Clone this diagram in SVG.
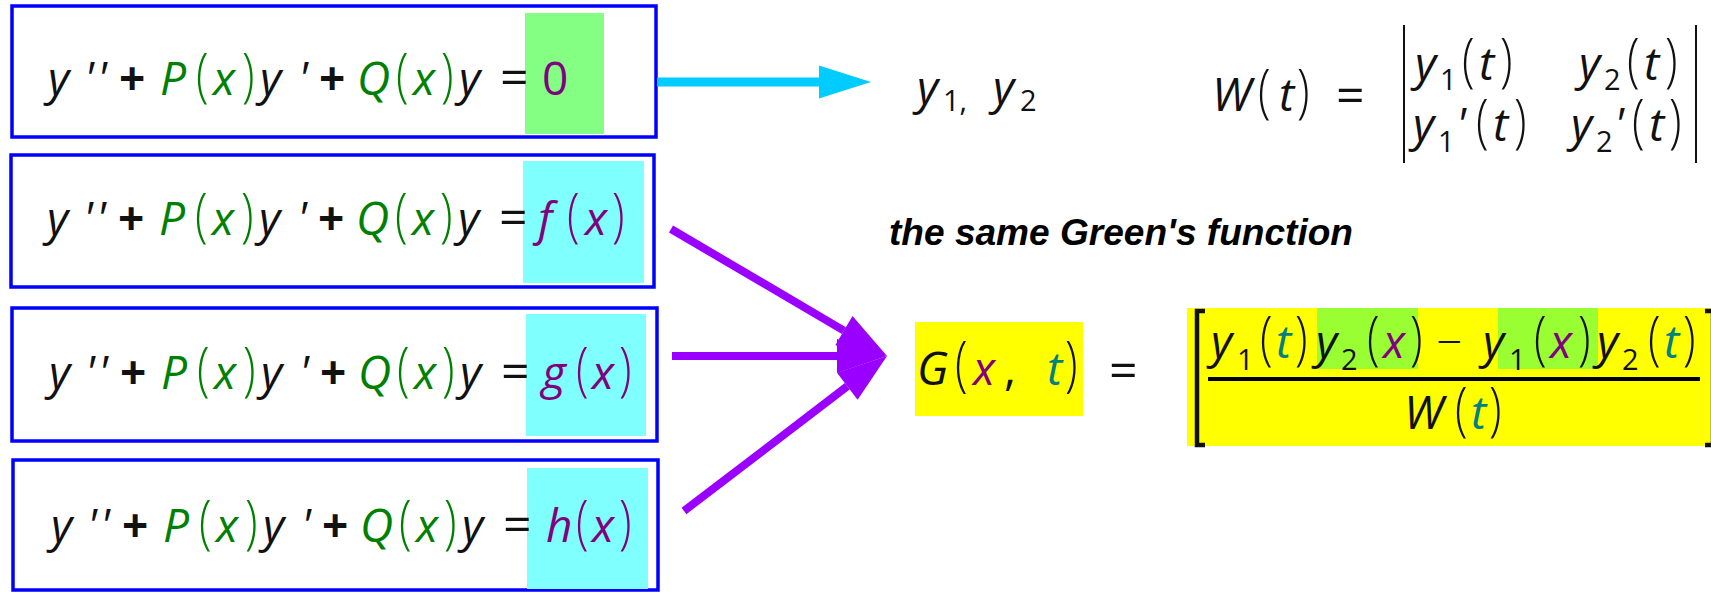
<svg xmlns="http://www.w3.org/2000/svg" width="1711" height="593" viewBox="0 0 1711 593">
<style>
.m{font-family:"Open Sans","Noto Sans",sans-serif;font-size:46px;font-style:italic;fill:#111}
.u{font-style:normal}
.b{font-weight:700}
.p{font-style:normal;font-weight:300}
.gr{fill:#008000}.pu{fill:#800080}.te{fill:#008080}
.s{font-size:29px;font-style:normal}
.eqs{font-size:50px}
.box{fill:#fff;stroke:#0000ff;stroke-width:3.5}
.lbl{font-family:"Liberation Sans",Arial,sans-serif;font-size:36px;font-weight:700;font-style:italic;fill:#000}
.pl{stroke:#9900ff;stroke-width:8;fill:none}
.cl{stroke:#00ccff;stroke-width:9;fill:none}
.bar{stroke:#111;stroke-width:2;fill:none}
</style>
<defs>
<marker id="hp" markerUnits="userSpaceOnUse" markerWidth="50" markerHeight="34" refX="0" refY="17" orient="auto" overflow="visible"><path d="M0,0 L50,17 L0,34 z" fill="#9900ff"/></marker>
<marker id="hc" markerUnits="userSpaceOnUse" markerWidth="52" markerHeight="33" refX="0" refY="16.5" orient="auto" overflow="visible"><path d="M0,0 L52,16.5 L0,33 z" fill="#00ccff"/></marker>
</defs>

<g id="eq1">
<rect class="box" x="12" y="6" width="644" height="131"/>
<rect x="525" y="13" width="79" height="121" fill="#84ff84"/>
<g transform="translate(0,95)">
<text class="m" x="48">y</text><text class="m" x="84">'</text><text class="m" x="97">'</text>
<text class="m u b" x="119">+</text>
<text class="m gr" x="160">P</text>
<text class="m p gr" transform="translate(196,0) scale(1,1.28)">(</text>
<text class="m gr" x="213">x</text>
<text class="m p gr" transform="translate(242,0) scale(1,1.28)">)</text>
<text class="m" x="260">y</text><text class="m" x="298">'</text>
<text class="m u b" x="319">+</text>
<text class="m gr" x="357">Q</text>
<text class="m p gr" transform="translate(396,0) scale(1,1.28)">(</text>
<text class="m gr" x="413">x</text>
<text class="m p gr" transform="translate(441,0) scale(1,1.28)">)</text>
<text class="m" x="459">y</text>
<text class="m u eqs" x="500">=</text>
<text class="m u pu" x="542">0</text>
</g>
</g>

<g id="eq2">
<rect class="box" x="11" y="155" width="643" height="132"/>
<rect x="523" y="161" width="121" height="122" fill="#80ffff"/>
<g transform="translate(-1,235)">
<text class="m" x="48">y</text><text class="m" x="84">'</text><text class="m" x="97">'</text>
<text class="m u b" x="119">+</text>
<text class="m gr" x="160">P</text>
<text class="m p gr" transform="translate(196,0) scale(1,1.28)">(</text>
<text class="m gr" x="213">x</text>
<text class="m p gr" transform="translate(242,0) scale(1,1.28)">)</text>
<text class="m" x="260">y</text><text class="m" x="298">'</text>
<text class="m u b" x="319">+</text>
<text class="m gr" x="357">Q</text>
<text class="m p gr" transform="translate(396,0) scale(1,1.28)">(</text>
<text class="m gr" x="413">x</text>
<text class="m p gr" transform="translate(441,0) scale(1,1.28)">)</text>
<text class="m" x="459">y</text>
<text class="m u eqs" x="500">=</text>
<text class="m pu" x="539">f</text>
<text class="m p pu" transform="translate(568,0) scale(1,1.28)">(</text>
<text class="m pu" x="586">x</text>
<text class="m p pu" transform="translate(613,0) scale(1,1.28)">)</text>
</g>
</g>

<g id="eq3">
<rect class="box" x="12" y="308" width="645" height="133"/>
<rect x="526" y="314" width="120" height="122" fill="#80ffff"/>
<g transform="translate(1,389)">
<text class="m" x="48">y</text><text class="m" x="84">'</text><text class="m" x="97">'</text>
<text class="m u b" x="119">+</text>
<text class="m gr" x="160">P</text>
<text class="m p gr" transform="translate(196,0) scale(1,1.28)">(</text>
<text class="m gr" x="213">x</text>
<text class="m p gr" transform="translate(242,0) scale(1,1.28)">)</text>
<text class="m" x="260">y</text><text class="m" x="298">'</text>
<text class="m u b" x="319">+</text>
<text class="m gr" x="357">Q</text>
<text class="m p gr" transform="translate(396,0) scale(1,1.28)">(</text>
<text class="m gr" x="413">x</text>
<text class="m p gr" transform="translate(441,0) scale(1,1.28)">)</text>
<text class="m" x="459">y</text>
<text class="m u eqs" x="500">=</text>
<text class="m pu" x="541">g</text>
<text class="m p pu" transform="translate(575,0) scale(1,1.28)">(</text>
<text class="m pu" x="591">x</text>
<text class="m p pu" transform="translate(618,0) scale(1,1.28)">)</text>
</g>
</g>

<g id="eq4">
<rect class="box" x="13" y="460" width="645" height="130" stroke-width="5"/>
<rect x="527" y="468" width="121" height="121" fill="#80ffff"/>
<g transform="translate(3,542)">
<text class="m" x="48">y</text><text class="m" x="84">'</text><text class="m" x="97">'</text>
<text class="m u b" x="119">+</text>
<text class="m gr" x="160">P</text>
<text class="m p gr" transform="translate(196,0) scale(1,1.28)">(</text>
<text class="m gr" x="213">x</text>
<text class="m p gr" transform="translate(242,0) scale(1,1.28)">)</text>
<text class="m" x="260">y</text><text class="m" x="298">'</text>
<text class="m u b" x="319">+</text>
<text class="m gr" x="357">Q</text>
<text class="m p gr" transform="translate(396,0) scale(1,1.28)">(</text>
<text class="m gr" x="413">x</text>
<text class="m p gr" transform="translate(441,0) scale(1,1.28)">)</text>
<text class="m" x="459">y</text>
<text class="m u eqs" x="500">=</text>
<text class="m pu" x="543">h</text>
<text class="m p pu" transform="translate(573,0) scale(1,1.28)">(</text>
<text class="m pu" x="589">x</text>
<text class="m p pu" transform="translate(616,0) scale(1,1.28)">)</text>
</g>
</g>

<g id="connectors">
<path class="cl" d="M657,82 L819,82" marker-end="url(#hc)"/>
<path class="pl" d="M671,229 L843.9,330.6" marker-end="url(#hp)"/>
<path class="pl" d="M672,356 L837,356" marker-end="url(#hp)"/>
<path class="pl" d="M684,511 L847.3,386.3" marker-end="url(#hp)"/>
</g>

<g id="solutions">
<text class="m" x="917" y="104">y</text>
<text class="m s" x="943" y="111">1,</text>
<text class="m" x="993" y="104">y</text>
<text class="m s" x="1020" y="111">2</text>
</g>

<g id="wronskian">
<text class="m" x="1212" y="111">W</text>
<text class="m p" transform="translate(1258,111) scale(1,1.3)">(</text>
<text class="m" x="1279" y="111">t</text>
<text class="m p" transform="translate(1297,111) scale(1,1.3)">)</text>
<text class="m u eqs" x="1336" y="113">=</text>
<path class="bar" d="M1404,25 V163 M1696,25 V163"/>
<text class="m" x="1415" y="80">y</text>
<text class="m s" x="1440" y="90">1</text>
<text class="m p" transform="translate(1462,80) scale(1,1.28)">(</text>
<text class="m" x="1479" y="80">t</text>
<text class="m p" transform="translate(1500,80) scale(1,1.28)">)</text>
<text class="m" x="1579" y="80">y</text>
<text class="m s" x="1604" y="90">2</text>
<text class="m p" transform="translate(1627,80) scale(1,1.28)">(</text>
<text class="m" x="1644" y="80">t</text>
<text class="m p" transform="translate(1665,80) scale(1,1.28)">)</text>
<text class="m" x="1413" y="141">y</text>
<text class="m s" x="1438" y="152">1</text>
<text class="m" x="1456" y="141">'</text>
<text class="m p" transform="translate(1476,141) scale(1,1.28)">(</text>
<text class="m" x="1493" y="141">t</text>
<text class="m p" transform="translate(1514,141) scale(1,1.28)">)</text>
<text class="m" x="1571" y="141">y</text>
<text class="m s" x="1596" y="152">2</text>
<text class="m" x="1614" y="141">'</text>
<text class="m p" transform="translate(1632,141) scale(1,1.28)">(</text>
<text class="m" x="1649" y="141">t</text>
<text class="m p" transform="translate(1669,141) scale(1,1.28)">)</text>
</g>

<g id="label">
<text class="lbl" x="889" y="245" textLength="464" lengthAdjust="spacingAndGlyphs">the same Green's function</text>
</g>

<g id="green">
<rect x="915" y="322" width="168" height="94" fill="#ffff00"/>
<text class="m" x="917" y="385" font-size="48">G</text>
<text class="m p" transform="translate(955,385) scale(1,1.32)">(</text>
<text class="m pu" x="973" y="385">x</text>
<text class="m u" x="1004" y="385">,</text>
<text class="m te" x="1047" y="385">t</text>
<text class="m p" transform="translate(1065,385) scale(1,1.32)">)</text>
<text class="m u eqs" x="1109" y="388">=</text>
<rect x="1187" y="308" width="524" height="138" fill="#ffff00"/>
<rect x="1317" y="308" width="101" height="61" fill="#99ff33"/>
<rect x="1498" y="308" width="100" height="61" fill="#99ff33"/>
<path d="M1205,311 H1197 V445 H1205" fill="none" stroke="#111" stroke-width="4.5"/>
<path d="M1705,311 H1713 V445 H1705" fill="none" stroke="#111" stroke-width="4.5"/>
<text class="m" x="1211" y="358">y</text>
<text class="m s" x="1237" y="370">1</text>
<text class="m p" transform="translate(1260,358) scale(1,1.28)">(</text>
<text class="m te" x="1276" y="358">t</text>
<text class="m p" transform="translate(1295,358) scale(1,1.28)">)</text>
<text class="m" x="1316" y="358">y</text>
<text class="m s" x="1341" y="370">2</text>
<text class="m p" transform="translate(1367,358) scale(1,1.28)">(</text>
<text class="m pu" x="1383" y="358">x</text>
<text class="m p" transform="translate(1410,358) scale(1,1.28)">)</text>
<text class="m u" x="1436" y="358" font-weight="300" font-size="50">−</text>
<text class="m" x="1483" y="358">y</text>
<text class="m s" x="1509" y="370">1</text>
<text class="m p" transform="translate(1534,358) scale(1,1.28)">(</text>
<text class="m pu" x="1550" y="358">x</text>
<text class="m p" transform="translate(1578,358) scale(1,1.28)">)</text>
<text class="m" x="1597" y="358">y</text>
<text class="m s" x="1622" y="370">2</text>
<text class="m p" transform="translate(1648,358) scale(1,1.28)">(</text>
<text class="m te" x="1664" y="358">t</text>
<text class="m p" transform="translate(1683,358) scale(1,1.28)">)</text>
<path d="M1208,379 H1700" stroke="#000" stroke-width="4"/>
<text class="m" x="1404" y="429">W</text>
<text class="m p" transform="translate(1455,429) scale(1,1.3)">(</text>
<text class="m te" x="1471" y="429">t</text>
<text class="m p" transform="translate(1489,429) scale(1,1.3)">)</text>
</g>
</svg>
